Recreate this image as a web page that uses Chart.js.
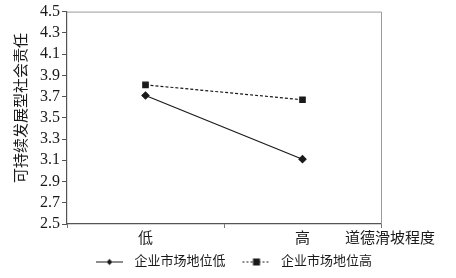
<!DOCTYPE html>
<html>
<head>
<meta charset="utf-8">
<script src="https://cdn.jsdelivr.net/npm/chart.js@4"></script>
<style>
  html, body { margin: 0; padding: 0; background: #fff; }
  canvas { display: block; }
</style>
</head>
<body>
<canvas id="chart" width="456" height="278"></canvas>
<script>
// ── Data ──────────────────────────────────────────
const categories = ['低', '高'];
const lowSeries = [3.71, 3.11];    // 企业市场地位低
const highSeries = [3.81, 3.67];   // 企业市场地位高
const seriesNames = ['企业市场地位低', '企业市场地位高'];
const yMin = 2.5, yMax = 4.5, yStep = 0.2;
const xTitle = '道德滑坡程度';
const yTitle = '可持续发展型社会责任';

const FONT = "'Liberation Serif', 'Noto Sans CJK SC', serif";
const INK = '#1a1a1a';

// legend swatch: line with marker in the middle (blank margins either side)
function swatch(style, dashed) {
    const c = document.createElement('canvas');
    c.width = 40; c.height = 10;
    const g = c.getContext('2d');
    g.strokeStyle = INK;
    g.lineWidth = 1;
    if (dashed) g.setLineDash([2, 2]);
    g.beginPath(); g.moveTo(8, 5.5); g.lineTo(35, 5.5); g.stroke();
    g.fillStyle = INK;
    if (style === 'rect') {
        g.fillRect(18.5, 2, 7, 7);
    } else {
        g.beginPath();
        g.moveTo(21.5, 2.5); g.lineTo(24.5, 5.5); g.lineTo(21.5, 8.5); g.lineTo(18.5, 5.5);
        g.closePath(); g.fill();
    }
    return c;
}

// gray top/right frame, axis titles
const framePlugin = {
    id: 'frame',
    afterDraw(chart) {
        const { ctx, chartArea: a } = chart;
        ctx.save();
        ctx.strokeStyle = '#9a9a9a';
        ctx.lineWidth = 1;
        ctx.beginPath();
        ctx.moveTo(a.left, a.top + 0.5);
        ctx.lineTo(a.right + 0.5, a.top + 0.5);
        ctx.lineTo(a.right + 0.5, a.bottom);
        ctx.stroke();
        ctx.fillStyle = INK;
        ctx.font = '15px ' + FONT;
        ctx.textBaseline = 'middle';
        ctx.textAlign = 'left';
        ctx.fillText(xTitle, 345, 239);
        ctx.translate(22, 108);
        ctx.rotate(-Math.PI / 2);
        ctx.textAlign = 'center';
        ctx.fillText(yTitle, 0, 0);
        ctx.restore();
    }
};

new Chart(document.getElementById('chart'), {
    type: 'line',
    data: {
        labels: categories,
        datasets: [{
            label: seriesNames[0],
            data: lowSeries,
            borderColor: INK,
            backgroundColor: INK,
            borderWidth: 1.2,
            pointStyle: 'rectRot',
            pointRadius: 3.5,
            pointHoverRadius: 3.5,
            tension: 0
        }, {
            label: seriesNames[1],
            data: highSeries,
            borderColor: INK,
            backgroundColor: INK,
            borderWidth: 1.2,
            borderDash: [3, 2],
            pointStyle: 'rect',
            pointRadius: 3.8,
            pointHoverRadius: 3.8,
            tension: 0
        }]
    },
    options: {
        responsive: false,
        animation: false,
        layout: { padding: { left: 0, right: 75, top: 7, bottom: 0 } },
        plugins: {
            tooltip: { enabled: false },
            legend: {
                position: 'bottom',
                align: 'end',
                labels: {
                    usePointStyle: true,
                    pointStyleWidth: 40,
                    color: INK,
                    font: { size: 13, family: FONT },
                    padding: 9,
                    generateLabels(chart) {
                        return chart.data.datasets.map((ds, i) => ({
                            text: ds.label,
                            pointStyle: swatch(ds.pointStyle, i === 1),
                            fillStyle: INK,
                            strokeStyle: INK,
                            lineWidth: 0,
                            datasetIndex: i,
                            fontColor: INK
                        }));
                    }
                }
            }
        },
        scales: {
            x: {
                type: 'category',
                offset: true,
                grid: {
                    display: true,
                    drawOnChartArea: false,
                    offset: true,
                    tickLength: 4,
                    color: '#777'
                },
                border: { color: '#555', width: 1.2 },
                ticks: {
                    color: INK,
                    font: { size: 15, family: FONT },
                    padding: 2
                },
                afterFit(scale) { scale.height = 22; }
            },
            y: {
                min: yMin,
                max: yMax,
                grid: {
                    display: true,
                    drawOnChartArea: false,
                    tickLength: 5,
                    color: '#555'
                },
                border: { color: '#555', width: 1.2 },
                ticks: {
                    stepSize: yStep,
                    autoSkip: false,
                    color: INK,
                    font: { size: 16, family: FONT },
                    padding: 2,
                    callback: v => v.toFixed(1)
                },
                afterFit(scale) { scale.width = 67; }
            }
        }
    },
    plugins: [framePlugin]
});
</script>
</body>
</html>
